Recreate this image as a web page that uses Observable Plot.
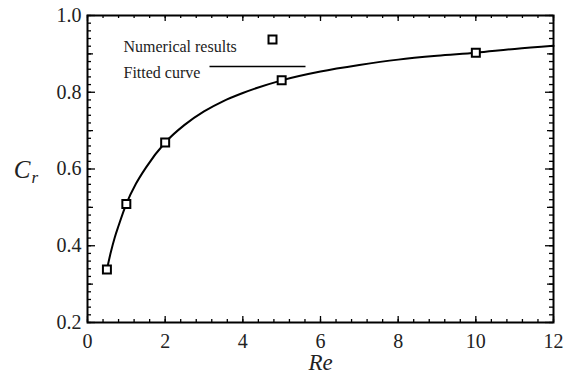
<!DOCTYPE html>
<html>
<head>
<meta charset="utf-8">
<script src="https://cdn.jsdelivr.net/npm/d3@7"></script>
<script src="https://cdn.jsdelivr.net/npm/@observablehq/plot@0.6"></script>
<style>
  html, body { margin: 0; padding: 0; background: #fff; }
</style>
</head>
<body>
<div id="chart"></div>
<script>
// Numerical results: Reynolds number vs. C_r
const reSamples = [0.5, 1, 2, 5, 10];
const crSamples = [0.338, 0.509, 0.669, 0.831, 0.903];

// Fitted curve through the results
const reFit = [0.5, 0.6, 0.7, 0.8, 1, 1.25, 1.5, 2, 2.5, 3, 3.5, 4, 5, 6, 7, 8, 9, 10, 11, 12];
const crFit = [0.338, 0.383, 0.421, 0.452, 0.509, 0.562, 0.603, 0.669, 0.715, 0.750, 0.777, 0.798, 0.831, 0.854, 0.871, 0.885, 0.895, 0.903, 0.913, 0.921];

// Axis tick values
const xMajor = [0, 2, 4, 6, 8, 10, 12];
const xMinor = d3.range(0, 31).map(i => +(i * 0.4).toFixed(1));
const yMajor = [0.2, 0.4, 0.6, 0.8, 1.0];
const yMid = [0.3, 0.5, 0.7, 0.9];
const yMinor = d3.range(0, 41).map(i => +(0.2 + i * 0.02).toFixed(2));

const legendLabels = ["Numerical results", "Fitted curve"];

const samples = reSamples.map((re, i) => ({re, cr: crSamples[i]}));
const fit = reFit.map((re, i) => ({re, cr: crFit[i]}));

const W = 566, H = 379;
const M = {left: 87, right: 13, top: 15, bottom: 57};
const frameW = W - M.left - M.right;
const frameH = H - M.top - M.bottom;
const serif = "Liberation Serif";

// A horizontal line segment used as the legend key for the curve
const lineSymbol = {
  draw(context) {
    context.moveTo(-48, 0);
    context.lineTo(48, 0);
  }
};

// Inward tick marks along the frame edges
const ticksX = (values, len) => [
  Plot.tickX(values, {x: d => d, insetTop: frameH - len, stroke: "#000", strokeWidth: 1.3}),
  Plot.tickX(values, {x: d => d, insetBottom: frameH - len, stroke: "#000", strokeWidth: 1.3})
];
const ticksY = (values, len) => [
  Plot.tickY(values, {y: d => d, insetRight: frameW - len, stroke: "#000", strokeWidth: 1.3}),
  Plot.tickY(values, {y: d => d, insetLeft: frameW - len, stroke: "#000", strokeWidth: 1.3})
];

const chart = Plot.plot({
  width: W,
  height: H,
  marginLeft: M.left,
  marginRight: M.right,
  marginTop: M.top,
  marginBottom: M.bottom,
  x: {domain: [0, 12], axis: null},
  y: {domain: [0.2, 1.0], axis: null},
  marks: [
    ...ticksX(xMinor, 3),
    ...ticksX(xMajor, 6),
    ...ticksY(yMinor, 4),
    ...ticksY(yMid, 6),
    ...ticksY(yMajor, 8),
    // tick labels
    Plot.axisX(xMajor, {anchor: "bottom", tickSize: 0, tickPadding: 11, fontSize: 20, fontFamily: serif, fill: "#222", label: null, tickFormat: d3.format("d")}),
    Plot.axisY(yMajor, {anchor: "left", tickSize: 0, tickPadding: 6, fontSize: 20, fontFamily: serif, fill: "#222", label: null, tickFormat: d3.format(".1f")}),
    Plot.frame({stroke: "#000", strokeWidth: 2}),
    // fitted curve and results
    Plot.line(fit, {x: "re", y: "cr", curve: "monotone-x", stroke: "#000", strokeWidth: 2}),
    Plot.dot(samples, {x: "re", y: "cr", symbol: "square", r: 4.5, fill: "#fff", stroke: "#000", strokeWidth: 2}),
    // legend
    Plot.text([legendLabels[0]], {frameAnchor: "top-left", dx: 36, dy: 25, textAnchor: "start", fontSize: 16, fontFamily: serif, fill: "#222"}),
    Plot.text([legendLabels[1]], {frameAnchor: "top-left", dx: 36, dy: 51, textAnchor: "start", fontSize: 16, fontFamily: serif, fill: "#222"}),
    Plot.dot([0], {frameAnchor: "top-left", dx: 185, dy: 24, symbol: "square", r: 4.5, fill: "#fff", stroke: "#000", strokeWidth: 2}),
    Plot.dot([0], {frameAnchor: "top-left", dx: 170, dy: 51, symbol: lineSymbol, fill: "none", stroke: "#000", strokeWidth: 1.6}),
    // axis titles
    Plot.text(["Re"], {frameAnchor: "bottom", dy: 47, fontSize: 23, fontStyle: "italic", fontFamily: serif, fill: "#222"}),
    Plot.text(["C"], {frameAnchor: "left", dx: -57, dy: 1, textAnchor: "end", fontSize: 25, fontStyle: "italic", fontFamily: serif, fill: "#222"}),
    Plot.text(["r"], {frameAnchor: "left", dx: -56, dy: 9, textAnchor: "start", fontSize: 17, fontStyle: "italic", fontFamily: serif, fill: "#222"})
  ]
});

document.getElementById("chart").append(chart);
</script>
</body>
</html>
